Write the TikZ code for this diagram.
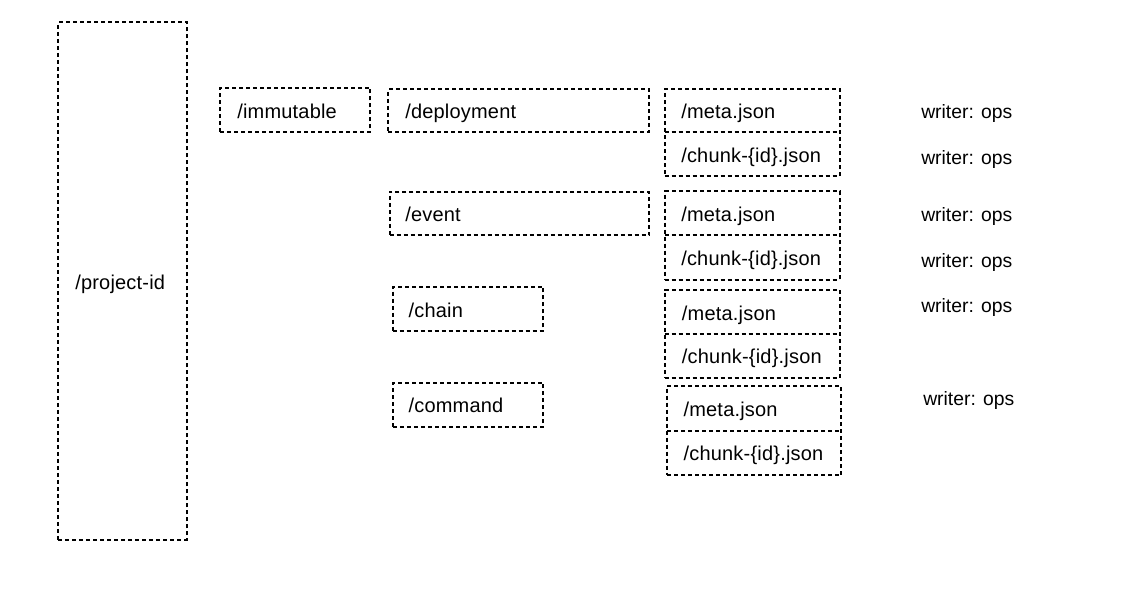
\documentclass[tikz,border=0pt]{standalone}
\usepackage{fontspec}
\setmainfont{Liberation Sans}
\newfontfamily\boxfont[LetterSpace=1]{Liberation Sans}
\newfontfamily\wfont{Liberation Sans}
\usetikzlibrary{fit}
\tikzset{
  dbox/.style={draw=black, line width=1.5pt, dash pattern=on 3pt off 2.25pt, inner sep=0pt, rectangle},
  cell/.style={inner sep=0pt, rectangle},
  lbl/.style={inner sep=0pt, anchor=base west, yshift=-1.1pt, font=\boxfont\fontsize{15pt}{18pt}\selectfont},
  wlbl/.style={inner sep=0pt, anchor=base west, yshift=-1.1pt, font=\wfont\fontsize{14.5pt}{18pt}\selectfont},
}
\begin{document}
\begin{tikzpicture}[x=0.75pt, y=-0.75pt]
\useasboundingbox[fill=white] (0,0) rectangle (1140,596);
% left column
\node[dbox, fit={(58.3,22.3) (186.7,540)}] (proj) {};
\node[lbl] (tproj) at (75,288) {/project-id};
\node[dbox, fit={(220,87.7) (370,132.3)}] (imm) {};
\node[lbl] (timm) at (237,117) {/immutable};
% folders
\node[dbox, fit={(388.3,89.3) (649.3,131.7)}] (dep) {};
\node[lbl] (tdep) at (405,117) {/deployment};
\node[dbox, fit={(389.5,191.7) (649.3,235)}] (evt) {};
\node[lbl] (tevt) at (405,220) {/event};
\node[dbox, fit={(392.7,286.7) (543.3,330.7)}] (chn) {};
\node[lbl] (tchn) at (408.3,316) {/chain};
\node[dbox, fit={(393,382.7) (543.3,426.7)}] (cmd) {};
\node[lbl] (tcmd) at (408.3,411) {/command};
% file boxes
\node[cell, fit={(665,89.3) (839.3,131.7)}] (m1) {};
\node[cell, fit={(665,131.7) (839.3,176)}] (c1) {};
\node[dbox, fit={(m1) (c1)}] (f1) {};
\draw[dbox] (m1.south west) -- (m1.south east);
\node[lbl] (tm1) at (681,117) {/meta.json};
\node[lbl] (tc1) at (681,161) {/chunk-\{id\}.json};
\node[cell, fit={(665,191.7) (839.3,235)}] (m2) {};
\node[cell, fit={(665,235) (839.3,279.3)}] (c2) {};
\node[dbox, fit={(m2) (c2)}] (f2) {};
\draw[dbox] (m2.south west) -- (m2.south east);
\node[lbl] (tm2) at (681,220) {/meta.json};
\node[lbl] (tc2) at (681,264) {/chunk-\{id\}.json};
\node[cell, fit={(665,290) (839.3,333.3)}] (m3) {};
\node[cell, fit={(665,333.3) (839.3,377.7)}] (c3) {};
\node[dbox, fit={(m3) (c3)}] (f3) {};
\draw[dbox] (m3.south west) -- (m3.south east);
\node[lbl] (tm3) at (681.7,319) {/meta.json};
\node[lbl] (tc3) at (681.7,362) {/chunk-\{id\}.json};
\node[cell, fit={(667.3,386) (841,430.7)}] (m4) {};
\node[cell, fit={(667.3,430.7) (841,475)}] (c4) {};
\node[dbox, fit={(m4) (c4)}] (f4) {};
\draw[dbox] (m4.south west) -- (m4.south east);
\node[lbl] (tm4) at (683.3,415) {/meta.json};
\node[lbl] (tc4) at (683.3,459) {/chunk-\{id\}.json};
% writers
\node[wlbl] (w1) at (921,117) {writer: ops};
\node[wlbl] (w2) at (921,163) {writer: ops};
\node[wlbl] (w3) at (921,220) {writer: ops};
\node[wlbl] (w4) at (921,266) {writer: ops};
\node[wlbl] (w5) at (921,311) {writer: ops};
\node[wlbl] (w6) at (923,404) {writer: ops};
\end{tikzpicture}
\end{document}
